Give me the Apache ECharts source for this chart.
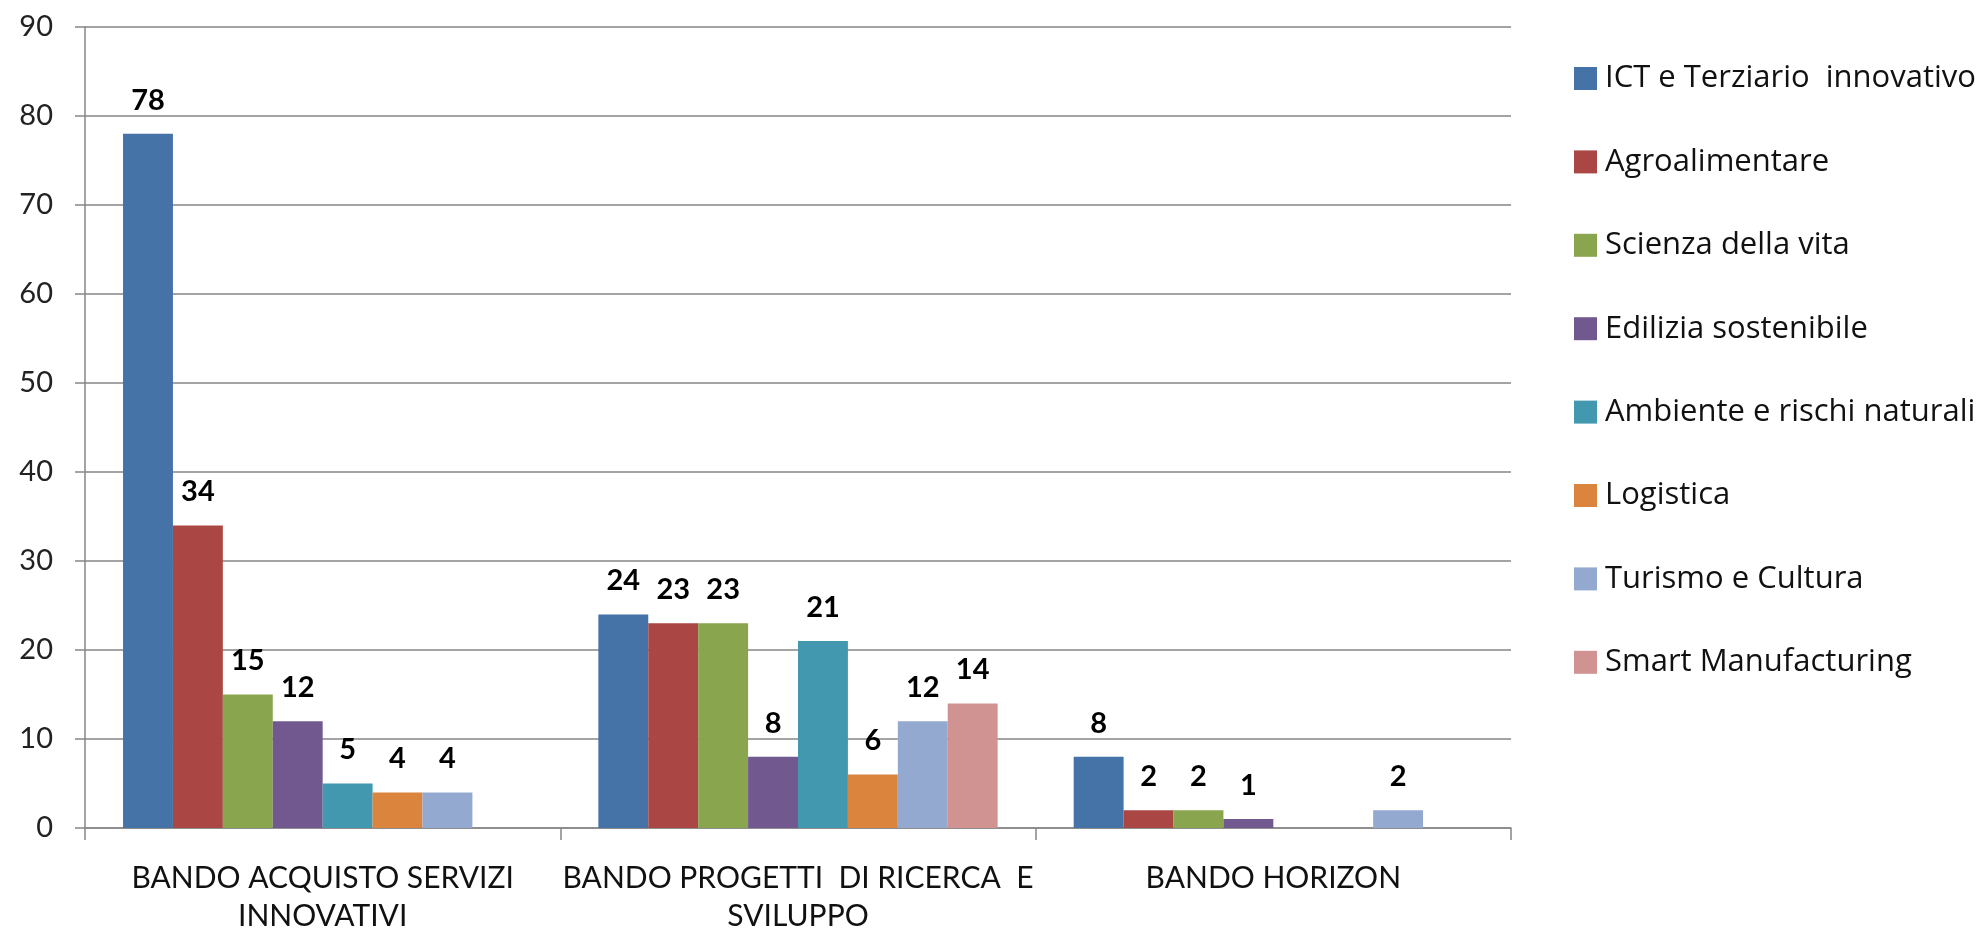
<!DOCTYPE html>
<html>
<head>
<meta charset="utf-8">
<script src="https://cdn.jsdelivr.net/npm/echarts@6/dist/echarts.min.js"></script>
<style>
html,body{margin:0;padding:0;background:#fff;}
#chart{width:1988px;height:935px;}
</style>
</head>
<body>
<div id="chart"></div>
<script>
const categories = ["BANDO ACQUISTO SERVIZI\nINNOVATIVI", "BANDO PROGETTI  DI RICERCA  E\nSVILUPPO", "BANDO HORIZON"];
const seriesNames = ["ICT e Terziario  innovativo", "Agroalimentare", "Scienza della vita", "Edilizia sostenibile", "Ambiente e rischi naturali", "Logistica", "Turismo e Cultura", "Smart Manufacturing"];
const ict = [78, 24, 8];
const agro = [34, 23, 2];
const scienza = [15, 23, 2];
const edilizia = [12, 8, 1];
const ambiente = [5, 21, '-'];
const logistica = [4, 6, '-'];
const turismo = [4, 12, 2];
const smart = ['-', 14, '-'];
const yTicks = [0, 10, 20, 30, 40, 50, 60, 70, 80, 90];

const values = [ict, agro, scienza, edilizia, ambiente, logistica, turismo, smart];
const colors = ["#4572A7", "#AA4643", "#89A54E", "#71588F", "#4198AF", "#DB843D", "#93A9CF", "#D19392"];
const font = "Lato, 'Open Sans', sans-serif";
const wideFont = "'Open Sans', Lato, sans-serif";

const chart = echarts.init(document.getElementById('chart'));
chart.setOption({
  animation: false,
  color: colors,
  textStyle: { fontFamily: font },
  grid: { left: 85, right: 477, top: 27, bottom: 107, containLabel: false },
  legend: {
    orient: 'vertical',
    left: 1574,
    top: 63,
    padding: 0,
    itemWidth: 23,
    itemHeight: 23,
    itemGap: 52.4,
    icon: 'rect',
    textStyle: { fontSize: 31, color: '#111', fontFamily: wideFont, lineHeight: 30, padding: [0, 0, 0, 3] },
    data: seriesNames
  },
  xAxis: {
    type: 'category',
    data: categories,
    axisLine: { lineStyle: { color: '#868686', width: 1.5 } },
    axisTick: { show: true, length: 12, inside: false, lineStyle: { color: '#868686', width: 1.5 } },
    axisLabel: { fontSize: 30, color: '#111', lineHeight: 38, margin: 31, interval: 0, fontFamily: font }
  },
  yAxis: {
    type: 'value',
    min: 0,
    max: 90,
    interval: 10,
    axisLine: { show: true, lineStyle: { color: '#868686', width: 1.5 } },
    axisTick: { show: true, length: 10, lineStyle: { color: '#868686', width: 1.5 } },
    splitLine: { show: true, lineStyle: { color: '#868686', width: 1.5 } },
    axisLabel: {
      fontSize: 29, color: '#222', margin: 32, fontFamily: font,
      formatter: function (v) { return yTicks.indexOf(v) >= 0 ? String(v) : ''; }
    }
  },
  series: seriesNames.map(function (name, i) {
    return {
      name: name,
      type: 'bar',
      data: values[i],
      barGap: '0%',
      barCategoryGap: '16%',
      itemStyle: { color: colors[i] },
      label: {
        show: true,
        position: 'top',
        distance: 19,
        fontSize: 29,
        fontWeight: 'bold',
        color: '#000',
        fontFamily: font
      }
    };
  })
});
</script>
</body>
</html>
